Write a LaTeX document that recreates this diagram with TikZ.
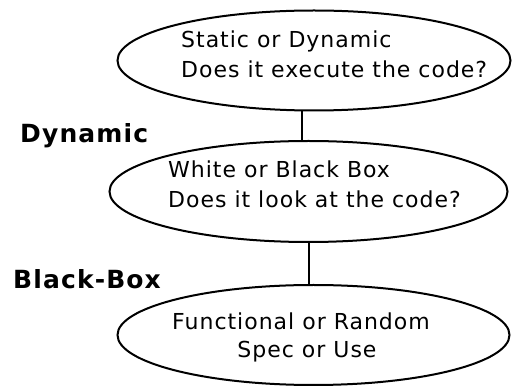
\documentclass[tikz,border=0pt]{standalone}
\usepackage{fontspec}
\setmainfont{DejaVu Sans}[LetterSpace=4.5]
\usetikzlibrary{shapes.geometric}
\begin{document}
\begin{tikzpicture}[x=1pt,y=-1pt,
  oval/.style={draw, ellipse, line width=2pt, inner sep=0pt, outer sep=0pt},
  txt/.style={inner sep=0pt, font=\fontsize{22}{30}\selectfont},
  lbl/.style={inner sep=0pt, anchor=base west, font=\fontsize{25}{30}\selectfont\bfseries},
  link/.style={line width=2pt}]
\useasboundingbox (0,0) rectangle (512,387);
% ellipses
\node[oval, minimum width=393pt, minimum height=100pt] (e1) at (314,60.5) {};
\node[oval, minimum width=398pt, minimum height=101pt] (e2) at (308.5,191.5) {};
\node[oval, minimum width=392pt, minimum height=100pt] (e3) at (313.5,335) {};
% texts
\node[txt, anchor=base west] (t1a) at (181,48) {Static or Dynamic};
\node[txt, anchor=base west] (t1b) at (181,78) {Does it execute the code?};
\node[txt, anchor=base west] (t2a) at (168,178) {White or Black Box};
\node[txt, anchor=base west] (t2b) at (168,208) {Does it look at the code?};
\node[txt, anchor=base] (t3a) at (301,330) {Functional or Random};
\node[txt, anchor=base] (t3b) at (307,358) {Spec or Use};
% labels
\node[lbl] (l1) at (20,143) {Dynamic};
\node[lbl] (l2) at (13,289) {Black-Box};
% connectors
\coordinate (c1) at ([xshift=-12pt]e1.south);
\draw[link] (c1) -- (c1 |- e2.north);
\draw[link] (e2.south) -- (e2.south |- e3.north);
\end{tikzpicture}
\end{document}
